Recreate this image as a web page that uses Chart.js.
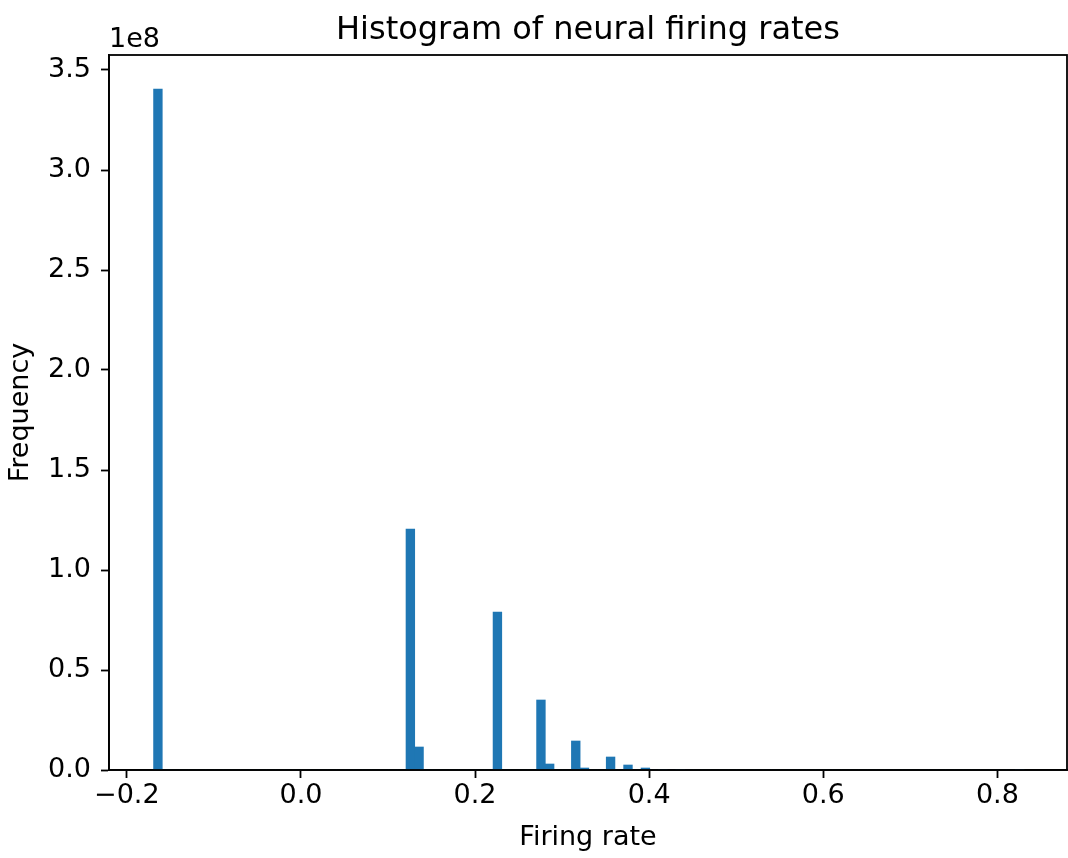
<!DOCTYPE html>
<html>
<head>
<meta charset="utf-8">
<title>Histogram of neural firing rates</title>
<script src="https://cdn.jsdelivr.net/npm/chart.js@4.4.1/dist/chart.umd.min.js"></script>
<style>
  html, body { margin: 0; padding: 0; background: #fff; }
  #chart { display: block; }
</style>
</head>
<body>
<canvas id="chart" width="1068" height="858"></canvas>
<script>
// Histogram bins: 100 equal bins starting at the smallest firing rate
const binStart = -0.1693;
const binWidth = 0.01;
const counts = [
  340500000, 0, 0, 0, 0, 0, 0, 0, 0, 0,
  0, 0, 0, 0, 0, 0, 0, 0, 0, 0,
  0, 0, 0, 0, 0, 0, 0, 0, 0, 120500000,
  11500000, 0, 0, 0, 0, 0, 0, 0, 0, 79000000,
  0, 0, 0, 0, 35000000, 3000000, 0, 0, 14500000, 1000000,
  0, 0, 6500000, 0, 2500000, 0, 1000000, 0, 300000, 0,
  200000, 0, 0, 0, 0, 0, 0, 0, 0, 0,
  0, 0, 0, 0, 0, 0, 0, 0, 0, 0,
  0, 0, 0, 0, 0, 0, 0, 0, 0, 0,
  0, 0, 0, 0, 0, 0, 0, 0, 0, 5000
];
const xTicks = [-0.2, 0.0, 0.2, 0.4, 0.6, 0.8];
const yTicks = [0, 0.5e8, 1.0e8, 1.5e8, 2.0e8, 2.5e8, 3.0e8, 3.5e8];

const FONT = "'DejaVu Sans', 'Liberation Sans', sans-serif";
const barData = counts.map((c, i) => ({ x: binStart + (i + 0.5) * binWidth, y: c }));

// frame, title, axis labels and the 1e8 offset text
const decorations = {
  id: 'decorations',
  afterDraw(chart) {
    const { ctx, chartArea: a } = chart;
    ctx.save();
    ctx.strokeStyle = '#000';
    ctx.lineWidth = 1.8;
    ctx.strokeRect(a.left, a.top, a.right - a.left, a.bottom - a.top);

    ctx.fillStyle = '#000';
    ctx.font = `32px ${FONT}`;
    ctx.textAlign = 'center';
    ctx.textBaseline = 'alphabetic';
    ctx.fillText('Histogram of neural firing rates', (a.left + a.right) / 2, 39);

    ctx.font = `27px ${FONT}`;
    ctx.textAlign = 'left';
    ctx.fillText('1e8', a.left, 47);

    ctx.textAlign = 'center';
    ctx.fillText('Firing rate', (a.left + a.right) / 2, 845);

    ctx.translate(21, (a.top + a.bottom) / 2);
    ctx.rotate(-Math.PI / 2);
    ctx.textBaseline = 'middle';
    ctx.fillText('Frequency', 0, 0);
    ctx.restore();
  }
};

const tickGrid = {
  display: true,
  offset: false,
  drawOnChartArea: false,
  drawTicks: true,
  tickLength: 8,
  tickWidth: 1.8,
  tickColor: '#000'
};

new Chart(document.getElementById('chart'), {
  type: 'bar',
  data: {
    datasets: [{
      data: barData,
      backgroundColor: '#1f77b4',
      borderWidth: 0,
      barPercentage: 1.0,
      categoryPercentage: 1.0
    }]
  },
  options: {
    responsive: false,
    animation: false,
    devicePixelRatio: 1,
    layout: { padding: { top: 55, right: 1, left: 0, bottom: 0 } },
    plugins: {
      legend: { display: false },
      tooltip: { enabled: false },
      title: { display: false }
    },
    scales: {
      x: {
        type: 'linear',
        min: -0.2205,
        max: 0.880,
        offset: false,
        afterBuildTicks: (scale) => { scale.ticks = xTicks.map(v => ({ value: v })); },
        afterFit: (scale) => { scale.height = 88; },
        grid: tickGrid,
        border: { display: true, color: '#000', width: 1.8 },
        ticks: {
          color: '#000',
          font: { family: FONT, size: 27 },
          padding: 2,
          maxRotation: 0,
          autoSkip: false,
          callback: (v) => v.toFixed(1).replace('-', '\u2212')
        }
      },
      y: {
        min: 0,
        max: 3.575e8,
        afterBuildTicks: (scale) => { scale.ticks = yTicks.map(v => ({ value: v })); },
        afterFit: (scale) => { scale.width = 109; },
        grid: tickGrid,
        border: { display: true, color: '#000', width: 1.8 },
        ticks: {
          color: '#000',
          font: { family: FONT, size: 27 },
          padding: 10,
          autoSkip: false,
          callback: (v) => (v / 1e8).toFixed(1)
        }
      }
    }
  },
  plugins: [decorations]
});
</script>
</body>
</html>
